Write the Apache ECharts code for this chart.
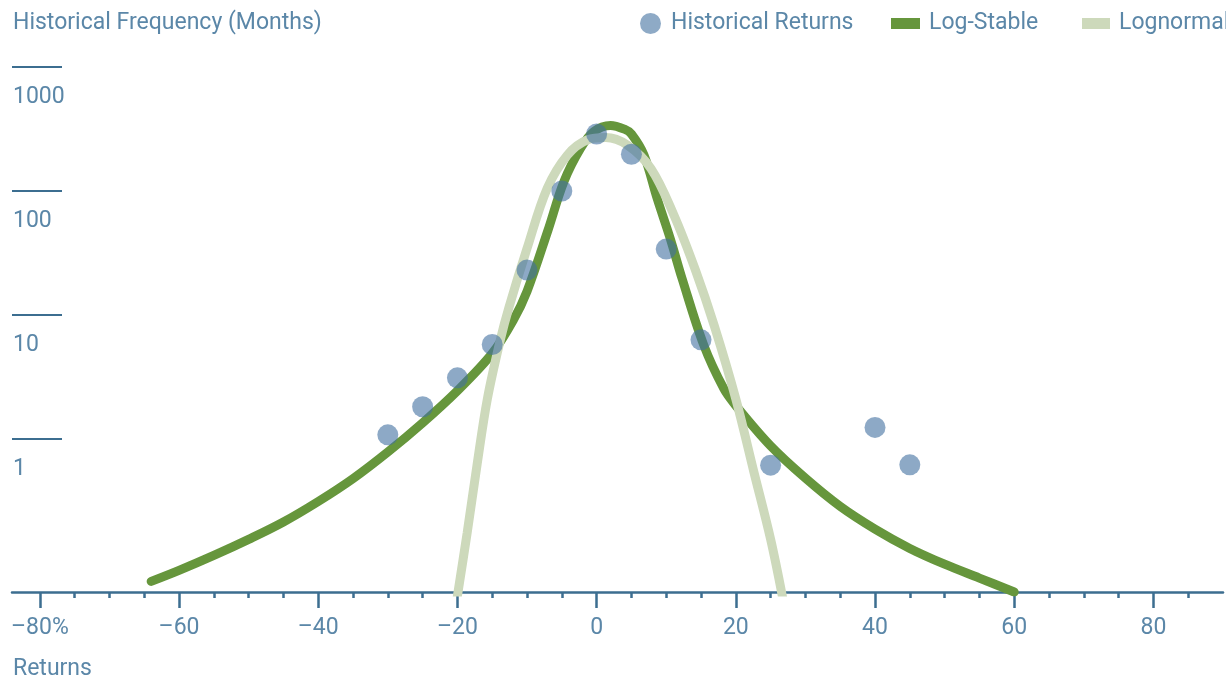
<!DOCTYPE html>
<html>
<head>
<meta charset="utf-8">
<script src="https://cdn.jsdelivr.net/npm/echarts@6/dist/echarts.min.js"></script>
<style>
html,body{margin:0;padding:0;background:#fff;}
#c{width:1226px;height:682px;}
</style>
</head>
<body>
<div id="c"></div>
<script>
// ---- data ----
const xMajorTicks = [-80, -60, -40, -20, 0, 20, 40, 60, 80];
const xMinorTicks = [-75, -70, -65, -55, -50, -45, -35, -30, -25, -15, -10, -5, 5, 10, 15, 25, 30, 35, 45, 50, 55, 65, 70, 75, 85];
const yTicks = [1, 10, 100, 1000];

// Historical Returns: [return %, months]
const historicalReturns = [
  [-30, 1.08], [-25, 1.82], [-20, 3.11], [-15, 5.78], [-10, 23], [-5, 100],
  [0, 288], [5, 198], [10, 34], [15, 6.3], [25, 0.615], [40, 1.24], [45, 0.618]
];

// Log-Stable fitted curve
const logStable = [
  [-64, 0.071], [-60, 0.0871], [-55, 0.115], [-50, 0.155], [-45, 0.214], [-40, 0.313],
  [-35, 0.479], [-30, 0.785], [-25, 1.35], [-20, 2.45], [-15, 4.9], [-12, 9.0],
  [-10, 15.5], [-7, 48], [-4.7, 119], [-2.3, 221], [-0.4, 302], [2, 338],
  [4, 315], [5, 288], [6.8, 195], [8.7, 87], [10.6, 41], [12.3, 19.5],
  [15.4, 5.7], [18.3, 2.53], [20, 1.86], [25, 0.88], [30, 0.483], [35, 0.286],
  [40, 0.1875], [45, 0.131], [50, 0.0977], [55, 0.0755], [60, 0.0583]
];

// Lognormal fitted curve
const lognormal = [
  [-20.1, 0.05], [-18.6, 0.175], [-17.2, 0.607], [-15.7, 2.1], [-13.8, 6.43],
  [-12.6, 11.5], [-10, 34.4], [-7.1, 105], [-4.2, 195], [-1.3, 259], [1.3, 270],
  [4.4, 235], [7.8, 152], [11.1, 64], [14.2, 23], [16.9, 8.2], [20, 2.1],
  [22.6, 0.54], [25, 0.155], [26.8, 0.05]
];

// ---- styling ----
const FONT = "Roboto, 'Open Sans', sans-serif";
const FS = 23;
const TEXT = '#5b87a8';
const AXIS = '#3c6e90';
const DOT = 'rgb(65,112,160)';
const DARK = '#66963c';
const LIGHT = '#cdd9bb';

function fmtX(v) {
  const s = (v < 0 ? '\u2013' : '') + Math.abs(v);
  return v === -80 ? s + '%' : s;
}

const chart = echarts.init(document.getElementById('c'), null, {renderer: 'canvas'});
chart.setOption({
  animation: false,
  backgroundColor: '#fff',
  title: [
    {text: 'Historical Frequency (Months)', left: 13, top: 12, padding: 0,
     textStyle: {fontFamily: FONT, fontSize: FS, fontWeight: 'normal', color: TEXT}},
    {text: 'Returns', left: 13, top: 658, padding: 0,
     textStyle: {fontFamily: FONT, fontSize: FS, fontWeight: 'normal', color: TEXT}}
  ],
  legend: [
    {data: [{name: 'Historical Returns', icon: 'circle', itemStyle: {color: '#8eaac6', opacity: 1}}],
     left: 640, top: 12, padding: 0, itemWidth: 21, itemHeight: 21,
     textStyle: {fontFamily: FONT, fontSize: FS, color: TEXT, padding: [0, 0, 0, 5]}},
    {data: [{name: 'Log-Stable', icon: 'rect', itemStyle: {color: DARK}}],
     left: 891, top: 12, padding: 0, itemWidth: 29, itemHeight: 11,
     textStyle: {fontFamily: FONT, fontSize: FS, color: TEXT, padding: [0, 0, 0, 4]}},
    {data: [{name: 'Lognormal', icon: 'rect', itemStyle: {color: LIGHT}}],
     left: 1082, top: 12, padding: 0, itemWidth: 28, itemHeight: 11,
     textStyle: {fontFamily: FONT, fontSize: FS, color: TEXT, padding: [0, 0, 0, 4]}}
  ],
  grid: {left: 12, right: 3, top: 67, bottom: 90, containLabel: false},
  xAxis: [
    {type: 'value', min: -84, max: 90, position: 'bottom',
     axisLine: {show: true, onZero: false, lineStyle: {color: AXIS, width: 2.5}},
     axisTick: {show: true, length: 16, customValues: xMajorTicks, lineStyle: {color: AXIS, width: 2.5}},
     axisLabel: {show: true, customValues: xMajorTicks, margin: 25, formatter: fmtX,
                 fontFamily: FONT, fontSize: FS, color: TEXT},
     splitLine: {show: false}},
    {type: 'value', min: -84, max: 90, position: 'bottom',
     axisLine: {show: false, onZero: false},
     axisTick: {show: true, length: 6, customValues: xMinorTicks, lineStyle: {color: AXIS, width: 2.5}},
     axisLabel: {show: false},
     splitLine: {show: false}}
  ],
  yAxis: {
    type: 'log', logBase: 10, min: 0.0583, max: 1000, position: 'left',
    axisLine: {show: false, onZero: false},
    axisTick: {show: true, inside: true, length: 50, customValues: yTicks, lineStyle: {color: AXIS, width: 2}},
    axisLabel: {show: true, inside: true, customValues: yTicks, margin: 1,
                formatter: v => String(v),
                verticalAlign: 'top', padding: [19, 0, 0, 0],
                fontFamily: FONT, fontSize: FS, color: TEXT},
    splitLine: {show: false}
  },
  series: [
    {name: 'Log-Stable', type: 'line', xAxisIndex: 0, data: logStable,
     showSymbol: false, symbol: 'none', smooth: 0.35, z: 2,
     itemStyle: {color: DARK},
     lineStyle: {color: DARK, width: 9, cap: 'round'}},
    {name: 'Lognormal', type: 'line', xAxisIndex: 0, data: lognormal,
     showSymbol: false, symbol: 'none', smooth: 0.35, z: 3,
     itemStyle: {color: LIGHT},
     lineStyle: {color: LIGHT, width: 9}},
    {name: 'Historical Returns', type: 'scatter', xAxisIndex: 0, data: historicalReturns,
     symbol: 'circle', symbolSize: 21, z: 4,
     itemStyle: {color: DOT, opacity: 0.6}}
  ]
});
</script>
</body>
</html>
